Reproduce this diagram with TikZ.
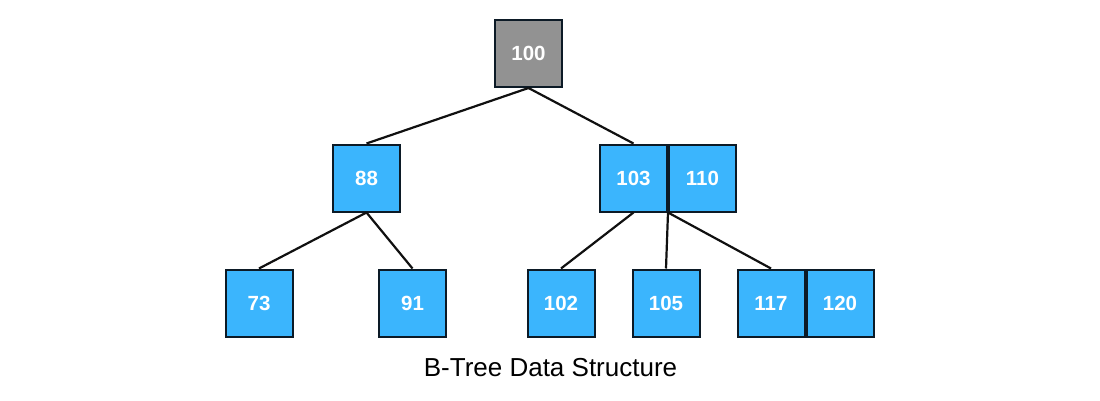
\documentclass[tikz,border=0pt]{standalone}
\usepackage{fontspec}
\setmainfont{Liberation Sans}
\begin{document}
\begin{tikzpicture}[x=1pt,y=-1pt,
  keybox/.style={draw=boxline, line width=2pt, fill=keyblue, minimum size=67pt, inner sep=0pt,
    text=white, font=\fontsize{20.5}{20.5}\selectfont\bfseries},
  rootbox/.style={keybox, fill=rootgray},
  edge/.style={draw=edgeblack, line width=2.2pt}]
\definecolor{keyblue}{HTML}{3BB5FD}
\definecolor{rootgray}{HTML}{929292}
\definecolor{boxline}{HTML}{0C1A26}
\definecolor{edgeblack}{HTML}{101010}
\useasboundingbox (0,0) rectangle (1100,400);
\node[rootbox] (n100) at (528.5,53.5) {100};
\node[keybox] (n88) at (366.5,178) {88};
\node[keybox] (n103) at (633.5,178) {103};
\node[keybox] (n110) at (702.5,178) {110};
\node[keybox] (n73) at (259,303) {73};
\node[keybox] (n91) at (412.5,303) {91};
\node[keybox] (n102) at (561,303) {102};
\node[keybox] (n105) at (666,303) {105};
\node[keybox] (n117) at (771,303) {117};
\node[keybox] (n120) at (840,303) {120};
\coordinate (j103) at (n103.south east);
\draw[edge] (n100.south) -- (n88.north);
\draw[edge] (n100.south) -- (n103.north);
\draw[edge] (n88.south) -- (n73.north);
\draw[edge] (n88.south) -- (n91.north);
\draw[edge] (n103.south) -- (n102.north);
\draw[edge] (j103) -- (n105.north);
\draw[edge] (j103) -- (n117.north);
\node[font=\fontsize{26}{26}\selectfont, text=black] (title) at (550.5,368) {B-Tree Data Structure};
\end{tikzpicture}
\end{document}
